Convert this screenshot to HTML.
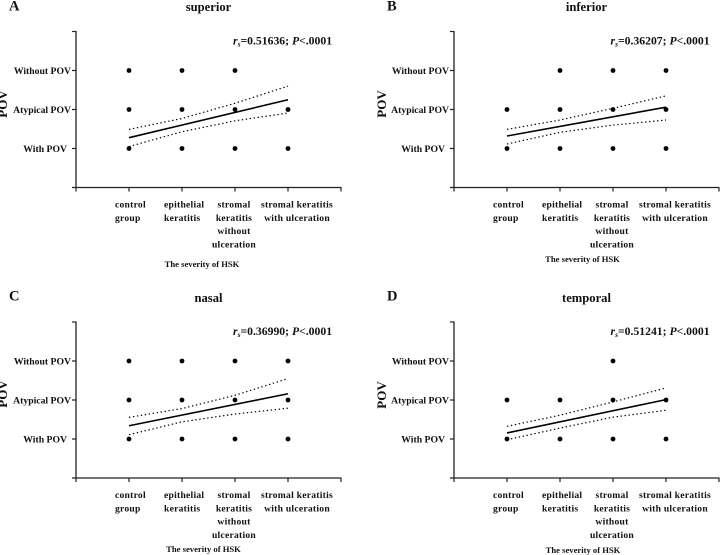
<!DOCTYPE html>
<html>
<head>
<meta charset="utf-8">
<style>
html,body{margin:0;padding:0;background:#fff;width:720px;height:555px;overflow:hidden}
svg{display:block;font-family:"Liberation Serif",serif;font-weight:bold;fill:#111;filter:blur(0.25px)}
text{fill:#111}
</style>
</head>
<body>
<svg id="figure" xmlns="http://www.w3.org/2000/svg" width="720" height="555" viewBox="0 0 720 555"></svg>
<script>
// Axis categories and tick labels
const levelLabels = ["With POV", "Atypical POV", "Without POV"];
const categoryLabels = [
  ["control", "group"],
  ["epithelial", "keratitis"],
  ["stromal", "keratitis", "without", "ulceration"],
  ["stromal keratitis", "with ulceration"]
];

// Observed levels per category (1 = With POV, 2 = Atypical, 3 = Without POV)
const dotsA = [[3, 2, 1], [3, 2, 1], [3, 2, 1], [2, 1]];
const dotsB = [[2, 1], [3, 2, 1], [3, 2, 1], [3, 2, 1]];
const dotsC = [[3, 2, 1], [3, 2, 1], [3, 2, 1], [3, 2, 1]];
const dotsD = [[2, 1], [2, 1], [3, 2, 1], [2, 1]];

// Fit line (at category 1 and category 4)
const fitA = [1.277, 2.25];
const fitB = [1.32, 2.06];
const fitC = [1.34, 2.16];
const fitD = [1.155, 2.01];

// Confidence bands at categories 1..4
const upperA = [1.49, 1.77, 2.16, 2.60];
const lowerA = [1.05, 1.43, 1.71, 1.91];
const upperB = [1.49, 1.73, 2.03, 2.35];
const lowerB = [1.115, 1.415, 1.60, 1.73];
const upperC = [1.555, 1.78, 2.12, 2.55];
const lowerC = [1.11, 1.44, 1.64, 1.79];
const upperD = [1.325, 1.61, 1.95, 2.31];
const lowerD = [0.98, 1.28, 1.56, 1.735];

// Spearman coefficients
const rhoValues = ["0.51636", "0.36207", "0.36990", "0.51241"];
const pValues = ["<.0001", "<.0001", "<.0001", "<.0001"];
const panelTitles = ["superior", "inferior", "nasal", "temporal"];
const panelLetters = ["A", "B", "C", "D"];

const NS = "http://www.w3.org/2000/svg";
const svg = document.getElementById("figure");

function make(tag, attrs, parent, txt) {
  const el = document.createElementNS(NS, tag);
  for (const k in attrs) el.setAttribute(k, attrs[k]);
  if (txt !== undefined) el.textContent = txt;
  parent.appendChild(el);
  return el;
}

const layouts = [
  { ox: 76, oy: 187.5, letterX: 9, letterY: 10.5, titleX: 208.5, titleY: 11, statX: 233, statY: 44.5, povX: 7, povY: 104, hskX: 202, hskY: 267 },
  { ox: 454, oy: 187.5, letterX: 387, letterY: 10.5, titleX: 586.5, titleY: 11, statX: 610.5, statY: 44.5, povX: 386, povY: 104, hskX: 582.5, hskY: 262 },
  { ox: 76, oy: 478, letterX: 9, letterY: 300.5, titleX: 208.5, titleY: 302, statX: 233, statY: 335, povX: 7, povY: 394, hskX: 203.5, hskY: 552 },
  { ox: 454, oy: 478, letterX: 387, letterY: 300.5, titleX: 586.5, titleY: 302, statX: 610.5, statY: 335, povX: 386, povY: 395, hskX: 583, hskY: 553 }
];
const labelAnchors = [
  { dx: 39, anchor: "start" },
  { dx: 88, anchor: "start" },
  { dx: 158, anchor: "middle" },
  { dx: 221, anchor: "middle" }
];
const allDots = [dotsA, dotsB, dotsC, dotsD];
const allFits = [fitA, fitB, fitC, fitD];
const allUppers = [upperA, upperB, upperC, upperD];
const allLowers = [lowerA, lowerB, lowerC, lowerD];

const UX = 53, UY = 39;

layouts.forEach(function (p, idx) {
  const sx = function (v) { return p.ox + v * UX; };
  const sy = function (v) { return p.oy - v * UY; };

  const g = make("g", {}, svg);
  
  

  const letter = make("text", { x: p.letterX, y: p.letterY, "font-size": 14.5 }, g, panelLetters[idx]);
  
  

  const title = make("text", { x: p.titleX, y: p.titleY, "font-size": 12.6, "text-anchor": "middle" }, g, panelTitles[idx]);
  
  

  // Correlation annotation
  const stat = make("text", { x: p.statX, y: p.statY, "font-size": 11.7 }, g);
  
  
  make("tspan", { "font-style": "italic" }, stat, "r");
  make("tspan", { "font-style": "italic", "font-size": 7.5, dy: 2 }, stat, "s");
  make("tspan", { dy: -2 }, stat, "=" + rhoValues[idx] + "; ");
  make("tspan", { "font-style": "italic" }, stat, "P");
  make("tspan", {}, stat, pValues[idx]);

  // Axes
  const yAxis = make("line", { x1: sx(0), x2: sx(0), y1: sy(4) - 0.5, y2: sy(0) + 0.5, stroke: "#222", "stroke-width": 1.3 }, g);
  
  
  const xAxis = make("line", { x1: sx(0) - 4, x2: sx(5) + 0.5, y1: sy(0), y2: sy(0), stroke: "#222", "stroke-width": 1.3 }, g);
  
  

  for (let v = 1; v <= 4; v++) {
    const t = make("line", { x1: sx(0) - 4, x2: sx(0), y1: sy(v), y2: sy(v), stroke: "#222", "stroke-width": 1.2 }, g);
    
    
  }
  for (let c = 0; c <= 5; c++) {
    const t = make("line", { x1: sx(c), x2: sx(c), y1: sy(0), y2: sy(0) + 4, stroke: "#222", "stroke-width": 1.2 }, g);
    
    
  }

  // Y tick labels
  levelLabels.forEach(function (lab, i) {
    const endX = i === 0 ? sx(0) - 9 : sx(0) - 5;
    const t = make("text", { x: endX, y: sy(i + 1) + 3.5, "font-size": 9.7, "text-anchor": "end" }, g, lab);
    
    
  });

  // X tick labels
  categoryLabels.forEach(function (lines, i) {
    lines.forEach(function (line, j) {
      const t = make("text", {
        x: p.ox + labelAnchors[i].dx,
        y: p.oy + 20 + j * 13.3,
        "font-size": 9.6,
        "letter-spacing": 0.25,
        "text-anchor": labelAnchors[i].anchor
      }, g, line);
      
      
    });
  });

  // Axis titles
  const yTitle = make("text", {
    x: p.povX, y: p.povY, "font-size": 13, "text-anchor": "middle",
    transform: "rotate(-90 " + p.povX + " " + p.povY + ")"
  }, g, "POV");
  
  

  const xTitle = make("text", { x: p.hskX, y: p.hskY, "font-size": 8.6, "text-anchor": "middle" }, g, "The severity of HSK");
  
  

  // Points
  allDots[idx].forEach(function (levels, c) {
    levels.forEach(function (lv) {
      const d = make("circle", { cx: sx(c + 1), cy: sy(lv), r: 2.4, fill: "#000" }, g);
      
      
    });
  });

  // Confidence bands
  [allUppers[idx], allLowers[idx]].forEach(function (band, b) {
    const pts = band.map(function (v, c) { return sx(c + 1) + "," + sy(v); }).join(" ");
    const l = make("polyline", { points: pts, fill: "none", stroke: "#000", "stroke-width": 1.2, "stroke-dasharray": "1.4 2.6" }, g);
    
    
  });

  // Fit line
  const fit = allFits[idx];
  const fl = make("line", { x1: sx(1), y1: sy(fit[0]), x2: sx(4), y2: sy(fit[1]), stroke: "#000", "stroke-width": 1.6 }, g);
  
  
});
</script>
</body>
</html>
